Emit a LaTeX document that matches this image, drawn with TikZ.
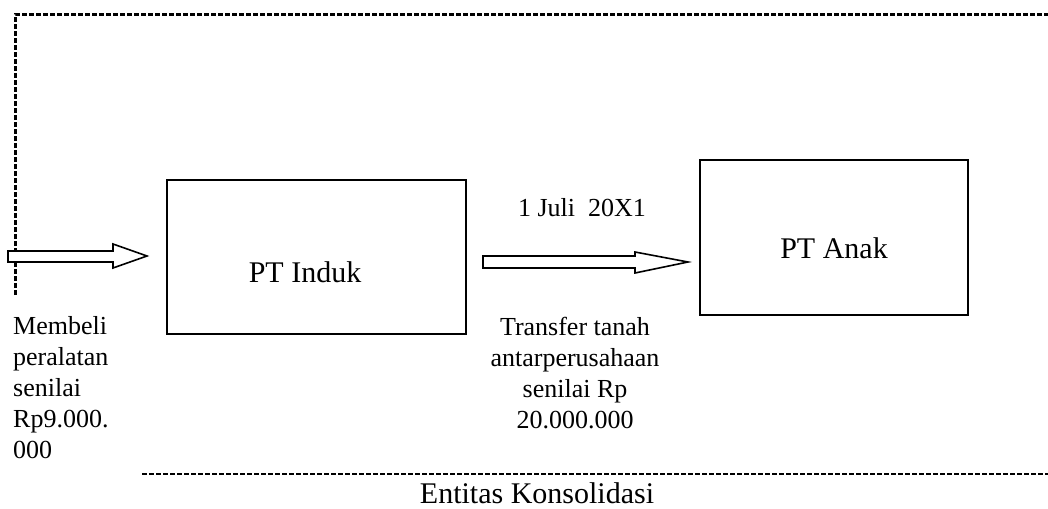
\documentclass[tikz,border=0pt]{standalone}
\usepackage{fontspec}
\setmainfont{Liberation Serif}
\usetikzlibrary{calc}
\tikzset{>=latex}
\tikzset{
  entbox/.style={draw,line width=1.4pt},
  bigtext/.style={font=\fontsize{30}{34}\selectfont,inner sep=0pt},
  smalltext/.style={font=\fontsize{26}{31}\selectfont,inner sep=0pt},
  thickdash/.style={line width=3pt,dash pattern=on 5pt off 2pt},
  thindash/.style={line width=2pt,dash pattern=on 5pt off 2pt},
  blockarrow/.style={draw,line width=1.6pt,fill=white,line join=miter}
}

\begin{document}
\begin{tikzpicture}[x=1pt,y=-1pt]
    \useasboundingbox (0,0) rectangle (1048,508);
    % batas entitas konsolidasi
    \draw[thickdash] (15,295) -- (15,15) -- (1048,15);
    \draw[thindash] (142,474) -- (1048,474);
    \node[bigtext,anchor=base] (entitas) at (537,503) {Entitas Konsolidasi};
    % perusahaan
    \draw[entbox] (167,180) rectangle (466,334);
    \node[bigtext,anchor=base] (induk) at (305,282) {PT Induk};
    \draw[entbox] (700,160) rectangle (968,315);
    \node[bigtext,anchor=base] (anak) at (834,258) {PT Anak};
    % panah pembelian
    \draw[blockarrow] (8,251) -- (113,251) -- (113,244) -- (147,256)
      -- (113,268) -- (113,262) -- (8,262) -- cycle;
    \node[smalltext,align=left,anchor=base west] (beli) at (13,458)
      {Membeli\\peralatan\\senilai\\Rp9.000.\\000};
    % panah transfer
    \draw[blockarrow] (483,256) -- (635,256) -- (635,252) -- (688,262)
      -- (635,273) -- (635,268) -- (483,268) -- cycle;
    \node[smalltext,anchor=base] (tanggal) at (582,216) {1 Juli\ \ 20X1};
    \node[smalltext,align=center,anchor=base] (transfer) at (575,428)
      {Transfer tanah\\antarperusahaan\\senilai Rp\\20.000.000};
\end{tikzpicture}
\end{document}
